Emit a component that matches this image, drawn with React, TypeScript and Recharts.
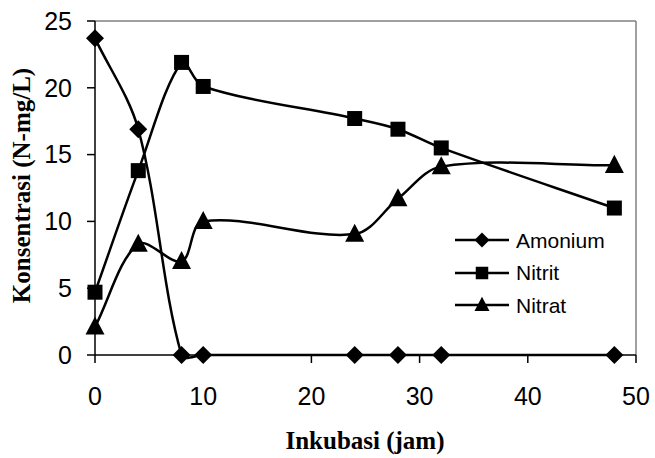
import React from 'react';
import { LineChart, Line, XAxis, YAxis, ReferenceLine } from 'recharts';

const hours = [0, 4, 8, 10, 24, 28, 32, 48];
const amonium = [23.7, 16.9, 0, 0, 0, 0, 0, 0];
const nitrit = [4.7, 13.8, 21.9, 20.1, 17.7, 16.9, 15.5, 11.0];
const nitrat = [2.1, 8.3, 7.0, 10.0, 9.05, 11.7, 14.1, 14.2];
const xTicks = [0, 10, 20, 30, 40, 50];
const yTicks = [0, 5, 10, 15, 20, 25];

const data = hours.map((h, i) => ({
  x: h,
  amonium: amonium[i],
  nitrit: nitrit[i],
  nitrat: nitrat[i],
}));

// Excel-like smoothed line: bezier segments, tangents weighted by segment length
const smoothCurve = (context: any) => {
  let pts: number[][] = [];
  const dist = (a: number[], b: number[]) => Math.hypot(b[0] - a[0], b[1] - a[1]);
  const t = 1 / 3;
  return {
    areaStart() {},
    areaEnd() {},
    lineStart() {
      pts = [];
    },
    point(x: number, y: number) {
      pts.push([+x, +y]);
    },
    lineEnd() {
      if (!pts.length) return;
      context.moveTo(pts[0][0], pts[0][1]);
      for (let i = 0; i < pts.length - 1; i++) {
        const p0 = pts[Math.max(i - 1, 0)];
        const p1 = pts[i];
        const p2 = pts[i + 1];
        const p3 = pts[Math.min(i + 2, pts.length - 1)];
        const d01 = dist(p0, p1);
        const d12 = dist(p1, p2);
        const d23 = dist(p2, p3);
        const fa = (t * d12) / (d01 + d12 || 1);
        const fb = (t * d12) / (d12 + d23 || 1);
        context.bezierCurveTo(
          p1[0] + (p2[0] - p0[0]) * fa,
          p1[1] + (p2[1] - p0[1]) * fa,
          p2[0] - (p3[0] - p1[0]) * fb,
          p2[1] - (p3[1] - p1[1]) * fb,
          p2[0],
          p2[1]
        );
      }
    },
  };
};

const diamond = (cx: number, cy: number, r: number) =>
  `M${cx},${cy - r}L${cx + r},${cy}L${cx},${cy + r}L${cx - r},${cy}Z`;
const square = (cx: number, cy: number, s: number) =>
  `M${cx - s / 2},${cy - s / 2}h${s}v${s}h${-s}Z`;
const triangle = (cx: number, cy: number, w: number) =>
  `M${cx},${cy - w * 0.55}L${cx + w / 2},${cy + w * 0.4}L${cx - w / 2},${cy + w * 0.4}Z`;

const shapes: Record<string, (cx: number, cy: number, big: boolean) => string> = {
  amonium: (cx, cy, big) => diamond(cx, cy, big ? 9 : 7.5),
  nitrit: (cx, cy, big) => square(cx, cy, big ? 15 : 12.5),
  nitrat: (cx, cy, big) => triangle(cx, cy, big ? 19 : 15),
};

const makeDot = (key: string) => (props: any) => {
  const { cx, cy, index } = props;
  return <path key={`${key}-${index}`} d={shapes[key](cx, cy, true)} fill="#000" />;
};

const legendItems = [
  { key: 'amonium', name: 'Amonium' },
  { key: 'nitrit', name: 'Nitrit' },
  { key: 'nitrat', name: 'Nitrat' },
];

const tickStyle = { fontFamily: 'Liberation Sans, Arial, sans-serif', fontSize: 25, fill: '#000' };
const titleFont = 'Liberation Serif, "Times New Roman", serif';

export default function App() {
  return (
    <div style={{ position: 'absolute', left: 0, top: 0, width: 655, height: 458, background: '#fff' }}>
      <LineChart width={655} height={458} data={data} margin={{ top: 21, right: 19, left: 0, bottom: 0 }}>
        <XAxis
          dataKey="x"
          type="number"
          domain={[0, 50]}
          ticks={xTicks}
          height={103}
          tickSize={8}
          tickMargin={24}
          tick={tickStyle}
          stroke="#000"
          strokeWidth={1.5}
          interval={0}
        />
        <YAxis
          type="number"
          domain={[0, 25]}
          ticks={yTicks}
          width={95}
          tickSize={8}
          tickMargin={15}
          tick={tickStyle}
          stroke="#000"
          strokeWidth={1.5}
          interval={0}
        />
        <ReferenceLine y={25} stroke="#808080" strokeWidth={1.5} />
        <ReferenceLine x={50} stroke="#808080" strokeWidth={1.5} />
        {legendItems.map((item) => (
          <Line
            key={item.key}
            dataKey={item.key}
            name={item.name}
            type={smoothCurve as any}
            stroke="#000"
            strokeWidth={2.5}
            dot={makeDot(item.key)}
            activeDot={false}
            isAnimationActive={false}
          />
        ))}
      </LineChart>
      <div style={{ position: 'absolute', left: 455, top: 224, width: 180 }}>
        {legendItems.map((item) => (
          <div key={item.key} style={{ display: 'flex', alignItems: 'center', height: 32.5 }}>
            <svg width={56} height={24} style={{ display: 'block' }}>
              <line x1={0} y1={12} x2={54} y2={12} stroke="#000" strokeWidth={2.5} />
              <path d={shapes[item.key](27, 12, false)} fill="#000" />
            </svg>
            <span
              style={{
                fontFamily: 'Liberation Sans, Arial, sans-serif',
                fontSize: 21,
                color: '#000',
                marginLeft: 5,
                lineHeight: 1,
              }}
            >
              {item.name}
            </span>
          </div>
        ))}
      </div>
      <div
        style={{
          position: 'absolute',
          left: 365 - 150,
          top: 428,
          width: 300,
          textAlign: 'center',
          fontFamily: titleFont,
          fontWeight: 'bold',
          fontSize: 25,
          lineHeight: '25px',
          color: '#000',
        }}
      >
        Inkubasi (jam)
      </div>
      <div
        style={{
          position: 'absolute',
          left: 21 - 150,
          top: 185 - 12.5,
          width: 300,
          height: 25,
          textAlign: 'center',
          fontFamily: titleFont,
          fontWeight: 'bold',
          fontSize: 25,
          lineHeight: '25px',
          color: '#000',
          transform: 'rotate(-90deg)',
          transformOrigin: '50% 50%',
        }}
      >
        Konsentrasi (N-mg/L)
      </div>
    </div>
  );
}
